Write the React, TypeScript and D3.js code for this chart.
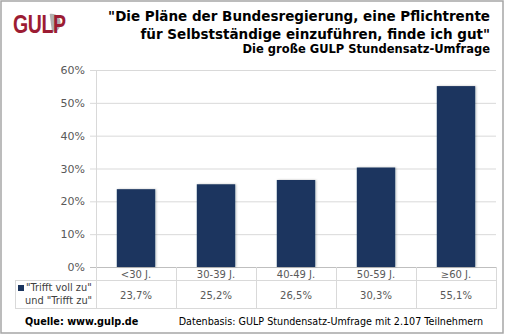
import React from "react";
import * as d3 from "d3";

const categories = ["<30 J.", "30-39 J.", "40-49 J.", "50-59 J.", "≥60 J."];
const values = [23.7, 25.2, 26.5, 30.3, 55.1];
const valueLabels = ["23,7%", "25,2%", "26,5%", "30,3%", "55,1%"];
const yTicks = [0, 10, 20, 30, 40, 50, 60];
const titleLines = [
  "\"Die Pläne der Bundesregierung, eine Pflichtrente",
  "für Selbstständige einzuführen, finde ich gut\"",
];
const subtitle = "Die große GULP Stundensatz-Umfrage";
const legendLines = ["\"Trifft voll zu\"", "und \"Trifft zu\""];
const sourceText = "Quelle: www.gulp.de";
const dataBasisText = "Datenbasis: GULP Stundensatz-Umfrage mit 2.107 Teilnehmern";

const W = 505;
const H = 336;
const FONT = "'DejaVu Sans', Verdana, sans-serif";

export default function App() {
  const x = d3.scaleBand<string>().domain(categories).range([96, 496]).paddingInner(0).paddingOuter(0);
  const y = d3.scaleLinear().domain([0, 60]).range([267, 70]);
  const bw = x.bandwidth();
  const barW = bw * 0.48;
  const barColor = "#1c355e";
  const gridColor = "#d9d9d9";
  const textGray = "#595959";
  const tableTop = 267;
  const rowDiv = 280;
  const tableBottom = 308;

  return (
    <svg width={W} height={H} style={{ position: "absolute", left: 0, top: 0 }} fontFamily={FONT}>
      <defs>
        <filter id="sh" x="-20%" y="-5%" width="140%" height="110%">
          <feDropShadow dx="1" dy="0" stdDeviation="1" floodColor="#000" floodOpacity="0.25" />
        </filter>
      </defs>
      <rect x={0} y={0} width={W} height={H} fill="#fff" />
      <rect x={1} y={1} width={W - 3} height={H - 4} fill="none" stroke="#a6a6a6" strokeWidth={1.5} />

      {/* Logo */}
      <g transform="translate(13,33) scale(0.78,1)">
        <path d="M47,-19 C56,-20 61,-15 61,-10 C61,-4 56,-1 50,-1 Z" fill="#b0b0b0" />
        <text x={0} y={0} fontFamily="'Liberation Sans Narrow', 'Liberation Sans', sans-serif" fontWeight="bold" fontSize={25} fill="#9c1c33" letterSpacing={-0.5}>
          GULP
        </text>
      </g>

      {/* Title */}
      {titleLines.map((t, i) => (
        <text key={i} x={490} y={21 + i * 18} textAnchor="end" fontWeight="bold" fontSize={13.5} fill="#000">
          {t}
        </text>
      ))}
      <text x={490} y={53} textAnchor="end" fontWeight="bold" fontSize={11.5} fill="#000">
        {subtitle}
      </text>

      {/* Gridlines & y ticks */}
      {yTicks.map((t) => (
        <g key={t}>
          <line x1={90} x2={496} y1={y(t) + 0.5} y2={y(t) + 0.5} stroke={t === 0 ? "#bfbfbf" : gridColor} strokeWidth={1} />
          <text x={85} y={y(t) + 4} textAnchor="end" fontSize={11} fill={textGray}>
            {t}%
          </text>
        </g>
      ))}
      <line x1={96.5} x2={96.5} y1={70} y2={267} stroke={gridColor} />

      {/* Bars */}
      {categories.map((c, i) => (
        <rect
          key={c}
          x={(x(c) as number) + (bw - barW) / 2}
          y={y(values[i])}
          width={barW}
          height={y(0) - y(values[i])}
          fill={barColor}
          filter="url(#sh)"
        />
      ))}

      {/* Data table */}
      <g stroke={gridColor} strokeWidth={1}>
        {categories.map((c) => (
          <line key={c} x1={(x(c) as number) + 0.5} x2={(x(c) as number) + 0.5} y1={tableTop} y2={tableBottom} />
        ))}
        <line x1={496.5} x2={496.5} y1={tableTop} y2={tableBottom} />
        <line x1={15} x2={497} y1={rowDiv + 0.5} y2={rowDiv + 0.5} />
        <line x1={15} x2={497} y1={tableBottom + 0.5} y2={tableBottom + 0.5} />
        <line x1={15.5} x2={15.5} y1={rowDiv} y2={tableBottom} />
      </g>
      {categories.map((c) => (
        <text key={c} x={(x(c) as number) + bw / 2} y={278} textAnchor="middle" fontSize={10} fill={textGray}>
          {c}
        </text>
      ))}
      {categories.map((c, i) => (
        <text key={c} x={(x(c) as number) + bw / 2} y={299} textAnchor="middle" fontSize={10} fill={textGray}>
          {valueLabels[i]}
        </text>
      ))}
      <rect x={18} y={285} width={6} height={6} fill={barColor} />
      {legendLines.map((t, i) => (
        <text key={i} x={i === 0 ? 26 : 25} y={291 + i * 13} fontSize={9.8} fill="#404040">
          {t}
        </text>
      ))}

      {/* Footer */}
      <text x={25} y={325} fontWeight="bold" fontSize={9.7} fill="#000">
        {sourceText}
      </text>
      <text x={483} y={325} textAnchor="end" fontSize={9.6} fill="#000">
        {dataBasisText}
      </text>
    </svg>
  );
}
